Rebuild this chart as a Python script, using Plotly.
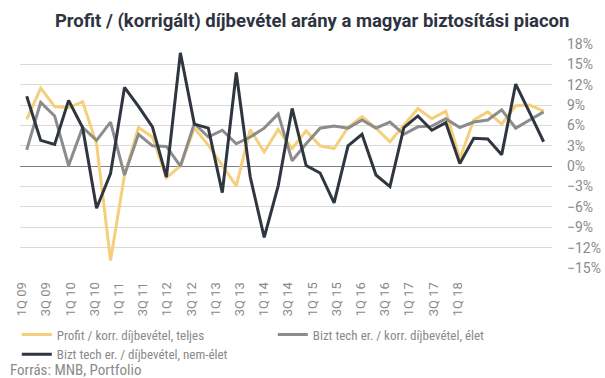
import plotly.graph_objects as go

quarters = [f"{q}Q {y:02d}" for y in range(9, 19) for q in range(1, 5)][:38]
tick_labels = quarters[::2]

profit_teljes = [6.9, 11.5, 8.8, 8.6, 9.5, 3.3, -13.9, -1.3, 5.7, 4.3,
                 -1.7, 0.0, 5.6, 3.1, 0.1, -2.9, 5.4, 2.1, 5.4, 2.6,
                 5.2, 3.0, 2.6, 5.7, 7.3, 5.6, 3.6, 6.0, 8.5, 7.0,
                 8.1, 1.1, 6.8, 8.0, 6.2, 8.9, 9.0, 8.1]
elet = [2.4, 9.4, 7.4, 0.1, 5.7, 3.8, 6.5, -1.3, 4.7, 3.0,
        2.9, 0.0, 6.3, 4.3, 5.3, 3.3, 4.3, 5.6, 7.7, 0.8,
        3.3, 5.6, 5.9, 5.6, 6.8, 5.6, 6.5, 4.7, 5.8, 5.9,
        7.0, 5.7, 6.5, 6.8, 8.3, 5.6, 6.8, 8.0]
nem_elet = [10.3, 3.8, 3.2, 9.7, 5.7, -6.2, -1.1, 11.6, 8.8, 5.8,
            -1.6, 16.7, 6.2, 5.6, -3.9, 13.8, -1.6, -10.5, -2.9, 8.5,
            0.1, -1.0, -5.4, 3.0, 4.7, -1.3, -3.0, 5.7, 7.4, 5.3,
            6.4, 0.4, 4.1, 4.0, 1.7, 12.1, 7.9, 3.6]

series = [
    ("Profit / korr. díjbevétel, teljes", profit_teljes, "#F6CF7C"),
    ("Bizt tech er. / korr. díjbevétel, élet", elet, "#8C8C8C"),
    ("Bizt tech er. / díjbevétel, nem-élet", nem_elet, "#2F3640"),
]

narrow = "Liberation Sans Narrow, Roboto Condensed, Roboto, sans-serif"

fig = go.Figure()
for name, vals, col in series:
    fig.add_trace(go.Scatter(x=quarters, y=[v / 100 for v in vals], name=name,
                             mode="lines", line=dict(color=col, width=3)))

fig.update_layout(
    width=605, height=378,
    margin=dict(l=20, r=53, t=44, b=110, autoexpand=False),
    paper_bgcolor="white", plot_bgcolor="white",
    font=dict(family="Roboto, sans-serif", color="#8a8a8a"),
    title=dict(text="<b>Profit / (korrigált) díjbevétel arány a magyar biztosítási piacon</b>",
               x=0.516, xanchor="center", xref="container",
               y=1 - 21 / 378, yanchor="middle", yref="container",
               font=dict(size=18.5, color="#2E3340", family="Roboto, sans-serif")),
    xaxis=dict(type="category", range=[-0.48, 37.6], showticklabels=False,
               showgrid=False, showline=False, ticks="", zeroline=False, automargin=False),
    xaxis2=dict(overlaying="x", anchor="y", side="bottom", range=[-0.08, 21.9],
                tickmode="array", tickvals=list(range(len(tick_labels))),
                ticktext=tick_labels, tickangle=-90, showgrid=False,
                showline=False, ticks="outside", ticklen=8, tickcolor="rgba(0,0,0,0)",
                zeroline=False, automargin=False,
                tickfont=dict(size=13, color="#8a8a8a")),
    yaxis=dict(side="right", range=[-0.15, 0.18], dtick=0.03, tick0=0,
               tickformat=".0%", showgrid=True, gridcolor="#D9D9D9", gridwidth=1,
               zeroline=True, zerolinecolor="#808080", zerolinewidth=1, automargin=False,
               tickfont=dict(size=14, color="#8a8a8a"), ticklabelstandoff=14),
    legend=dict(orientation="h", x=-0.006, xanchor="left", y=-0.23, yanchor="top",
                entrywidth=211, entrywidthmode="pixels", itemwidth=30,
                font=dict(size=13, color="#8a8a8a", family=narrow),
                bgcolor="rgba(0,0,0,0)", tracegroupgap=0),
    annotations=[dict(text="Forrás: MNB, Portfolio", xref="paper", yref="paper",
                      x=-0.022, y=-0.455, xanchor="left", yanchor="middle", showarrow=False,
                      font=dict(size=15, color="#8a8a8a", family=narrow))],
)
fig.add_trace(go.Scatter(x=[], y=[], xaxis="x2", showlegend=False, hoverinfo="skip"))

fig.write_html("out.html", config={"displayModeBar": False},
               post_script="document.body.style.margin='0';")
